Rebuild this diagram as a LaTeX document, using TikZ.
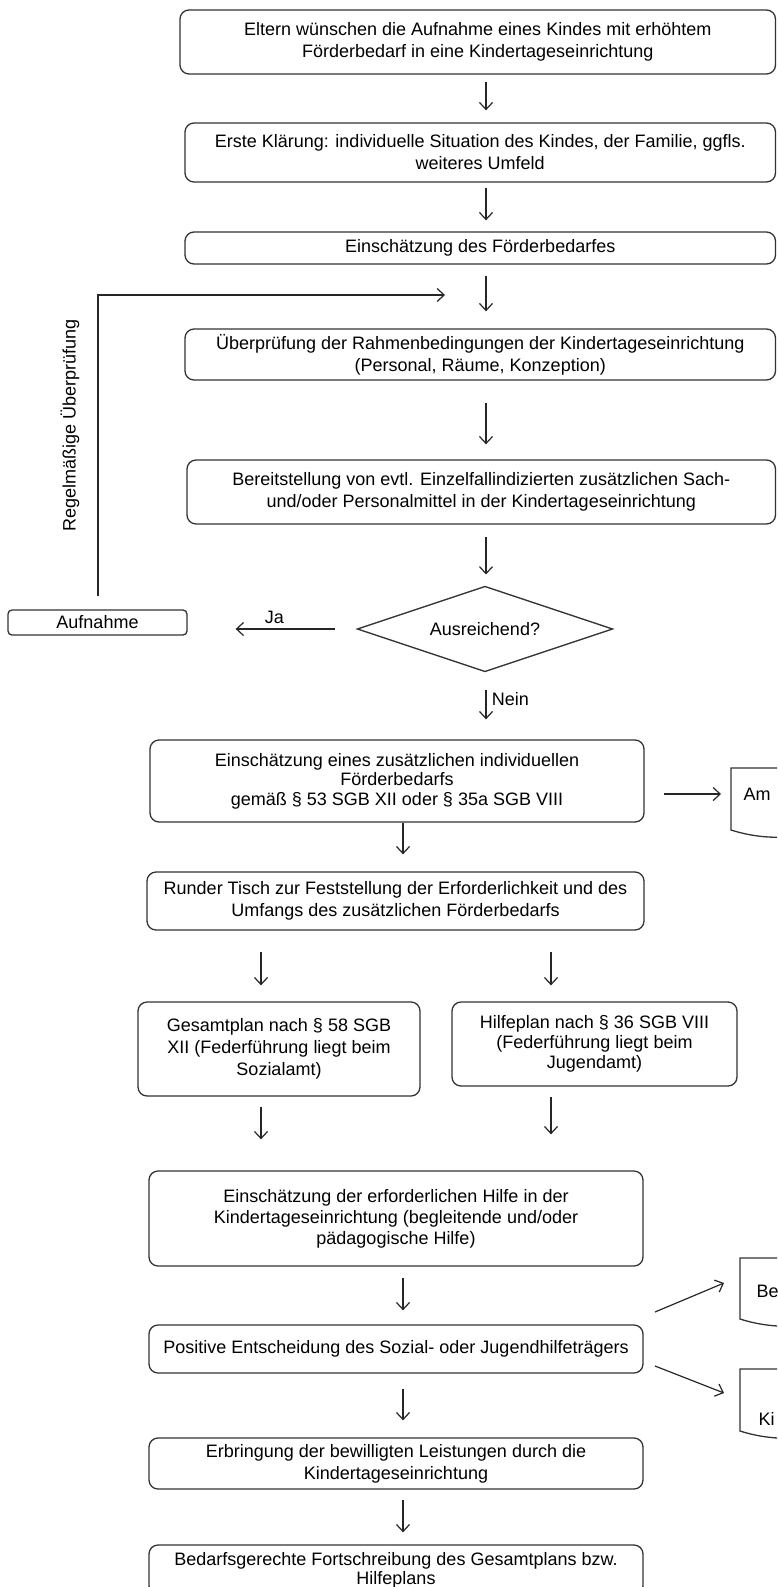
\documentclass[tikz,border=0pt]{standalone}
\usepackage{fontspec}
\setmainfont{Liberation Sans}
\usetikzlibrary{shapes.geometric,arrows.meta,calc}
\begin{document}
\begin{tikzpicture}[x=1pt,y=-1pt,
  txt/.style={font=\fontsize{18}{22}\selectfont},
  box/.style={txt,draw=black!80,line width=1.3pt,rounded corners=9pt,align=center,inner sep=0pt},
  arr/.style={draw=black!85,line width=1.2pt,-{Straight Barb[length=7pt,width=13pt,line width=1.2pt]}},
  doc/.style={draw=black!80,line width=1.3pt},
  ph/.style={inner sep=0pt,outer sep=0pt}]
\useasboundingbox (0,0) rectangle (777,1587);
\clip (0,0) rectangle (777,1587);
% helper coordinates
\coordinate (xm) at (486,0);
\coordinate (xl) at (403,0);
\coordinate (xa) at (261,0);
\coordinate (xb) at (551,0);
\coordinate (xf) at (98,0);
% top boxes
\node[box,minimum width=595.5pt,minimum height=64pt] (b1) at (477.75,42)
  {Eltern wünschen die Aufnahme eines Kindes mit erhöhtem\\ Förderbedarf in eine Kindertageseinrichtung};
\node[box,minimum width=590.5pt,minimum height=59pt] (b2) at (480.25,152.5)
  {Erste Klärung: individuelle Situation des Kindes, der Familie, ggfls.\\ weiteres Umfeld};
\node[box,minimum width=590.5pt,minimum height=32pt] (b3) at (480.25,248)
  {Einschätzung des Förderbedarfes};
\node[box,minimum width=590.5pt,minimum height=51pt] (b4) at (480.25,354.5)
  {Überprüfung der Rahmenbedingungen der Kindertageseinrichtung\\ (Personal, Räume, Konzeption)};
\node[box,minimum width=588.5pt,minimum height=64pt] (b5) at (481.25,492)
  {Bereitstellung von evtl. Einzelfallindizierten zusätzlichen Sach-\\ und/oder Personalmittel in der Kindertageseinrichtung};
\node[txt,ph,minimum width=255pt,minimum height=85pt] (dia) at (485,629) {Ausreichend?};
\draw[draw=black!80,line width=1.3pt] (dia.north) -- (dia.east) -- (dia.south) -- (dia.west) -- cycle;
\node[box,rounded corners=4pt,minimum width=179pt,minimum height=25pt] (aufn) at (97.5,622.5) {Aufnahme};
\node[txt,rotate=90] (reg) at (70,425) {Regelmäßige Überprüfung};
\coordinate (fb) at (445,295);
% arrows top
\draw[arr,shorten <=7pt,shorten >=12pt] (b1.south -| xm) -- (b2.north -| xm);
\draw[arr,shorten <=5pt,shorten >=11pt] (b2.south -| xm) -- (b3.north -| xm);
\draw[arr,shorten <=11pt,shorten >=17pt] (b3.south -| xm) -- (b4.north -| xm);
\draw[arr,shorten <=22pt,shorten >=15pt] (b4.south -| xm) -- (b5.north -| xm);
\draw[arr,shorten <=12pt,shorten >=12pt] (b5.south -| xm) -- (dia.north -| xm);
\draw[arr,shorten <=23pt,shorten >=48pt] (dia.west) -- (aufn.east |- dia.west)
  node[txt,pos=0.49,above=1pt] (ja) {Ja};
\draw[arr,shorten <=13pt] (aufn.north -| xf) |- (fb);
% lower part
\node[box,minimum width=494pt,minimum height=82pt,font=\fontsize{18}{19.5}\selectfont] (b6) at (397,781)
  {Einschätzung eines zusätzlichen individuellen\\ Förderbedarfs\\ gemäß § 53 SGB XII oder § 35a SGB VIII};
\draw[arr,shorten <=18pt,shorten >=20pt] (dia.south -| xm) -- (b6.north -| xm)
  node[txt,pos=0.4,right=2pt] (nein) {Nein};
% document Am
\node[ph,minimum width=100pt,minimum height=68pt] (d1) at (781,802) {};
\draw[doc] ($(d1.south east)+(0,-4)$) -- (d1.north east) -- (d1.north west) -- ($(d1.south west)+(0,-6)$)
  .. controls ($(d1.south west)+(25,2)$) and ($(d1.south west)+(50,3)$) .. ($(d1.south west)+(75,-1)$)
  -- ($(d1.south east)+(0,-4)$);
\node[txt,anchor=west] (t1) at (740,794) {Am};
\coordinate (yam) at (0,794);
\draw[arr,shorten <=19pt,shorten >=10pt] (b6.east |- yam) -- (d1.west |- yam);
\node[box,minimum width=497pt,minimum height=58pt] (b7) at (395.5,901)
  {Runder Tisch zur Feststellung der Erforderlichkeit und des\\ Umfangs des zusätzlichen Förderbedarfs};
\draw[arr,shorten >=17pt] (b6.south -| xl) -- (b7.north -| xl);
\node[box,minimum width=282pt,minimum height=94pt] (b8) at (279,1049)
  {Gesamtplan nach § 58 SGB\\ XII (Federführung liegt beim\\ Sozialamt)};
\node[box,minimum width=285pt,minimum height=84pt,font=\fontsize{18}{20}\selectfont] (b9) at (594.5,1044)
  {Hilfeplan nach § 36 SGB VIII\\ (Federführung liegt beim\\ Jugendamt)};
\draw[arr,shorten <=21pt,shorten >=16pt] (b7.south -| xa) -- (b8.north -| xa);
\draw[arr,shorten <=21pt,shorten >=16pt] (b7.south -| xb) -- (b9.north -| xb);
\node[box,minimum width=494pt,minimum height=95pt,font=\fontsize{18}{21}\selectfont] (b10) at (396,1218.5)
  {Einschätzung der erforderlichen Hilfe in der\\ Kindertageseinrichtung (begleitende und/oder\\ pädagogische Hilfe)};
\draw[arr,shorten <=10pt,shorten >=31pt] (b8.south -| xa) -- (b10.north -| xa);
\draw[arr,shorten <=10pt,shorten >=36pt] (b9.south -| xb) -- (b10.north -| xb);
\node[box,minimum width=494pt,minimum height=48pt] (b11) at (396,1349)
  {Positive Entscheidung des Sozial- oder Jugendhilfeträgers};
\draw[arr,shorten <=11pt,shorten >=14pt] (b10.south -| xl) -- (b11.north -| xl);
% documents Be / Ki
\node[ph,minimum width=100pt,minimum height=67pt] (d2) at (790,1291.5) {};
\node[ph,minimum width=100pt,minimum height=68pt] (d3) at (790,1403) {};
\foreach \d in {d2,d3}{
\draw[doc] ($(\d.south east)+(0,-4)$) -- (\d.north east) -- (\d.north west) -- ($(\d.south west)+(0,-6)$)
  .. controls ($(\d.south west)+(25,2)$) and ($(\d.south west)+(50,3)$) .. ($(\d.south west)+(75,-1)$)
  -- ($(\d.south east)+(0,-4)$);
}
\node[txt,anchor=west] (t2) at (753,1291) {Be};
\node[txt,anchor=west] (t3) at (755,1419) {Ki};
\coordinate (s2) at (655,1312);
\coordinate (s3) at (655,1366);
\coordinate (e2) at (724,1283);
\coordinate (e3) at (724,1393);
\draw[arr] (s2) -- (e2);
\draw[arr] (s3) -- (e3);
\node[box,minimum width=494pt,minimum height=51pt] (b12) at (396,1463.5)
  {Erbringung der bewilligten Leistungen durch die\\ Kindertageseinrichtung};
\draw[arr,shorten <=15pt,shorten >=17pt] (b11.south -| xl) -- (b12.north -| xl);
\node[box,minimum width=494pt,minimum height=50pt,font=\fontsize{18}{19}\selectfont] (b13) at (396,1570)
  {Bedarfsgerechte Fortschreibung des Gesamtplans bzw.\\ Hilfeplans};
\draw[arr,shorten <=10pt,shorten >=12pt] (b12.south -| xl) -- (b13.north -| xl);
\end{tikzpicture}
\end{document}
